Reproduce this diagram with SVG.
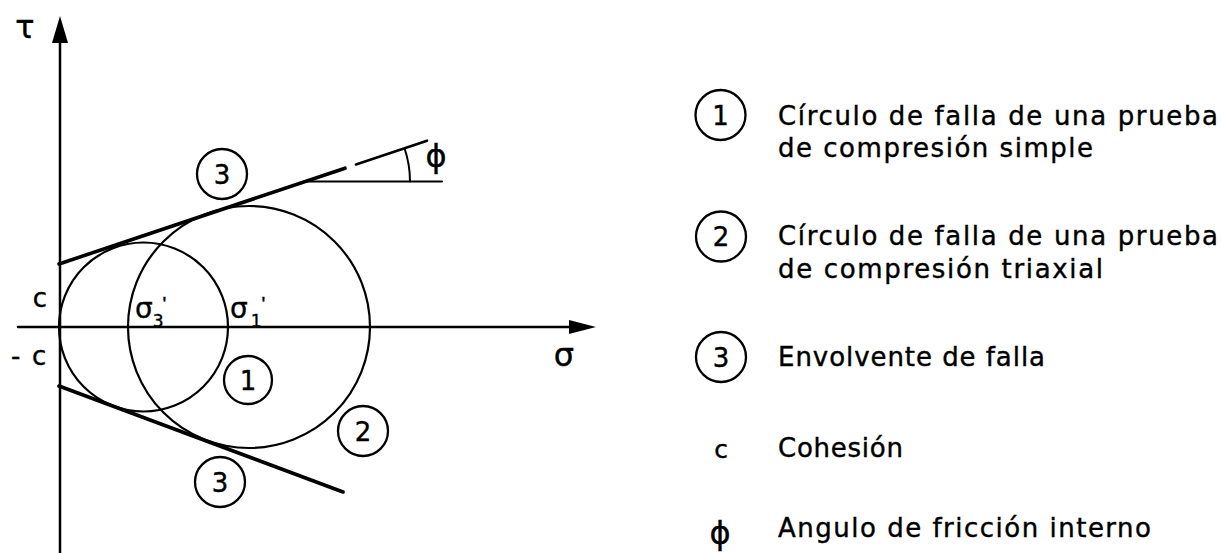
<svg xmlns="http://www.w3.org/2000/svg" width="1222" height="553" viewBox="0 0 1222 553">
<style>
.ln{fill:none;stroke:#000;stroke-linecap:round}
.ax{stroke-width:2.5}
.mc{stroke-width:2.2}
.env{stroke-width:3.6}
.tn{stroke-width:2}
.lc{fill:none;stroke:#000;stroke-width:2.3}
.t{font-family:"DejaVu Sans","Liberation Sans",sans-serif;fill:#000;stroke:#000;stroke-width:0.4}
.num{font-size:26px;text-anchor:middle}
.leg{font-size:26px}
.pr{font-family:"Liberation Sans",sans-serif}
</style>
<rect width="1222" height="553" fill="#fff"/>
<g id="connectors">
  <g id="tau-axis">
    <line class="ln ax" x1="60" y1="553" x2="60" y2="40"/>
    <polygon points="60,16 52,43 68,43" fill="#000"/>
  </g>
  <g id="sigma-axis">
    <line class="ln ax" x1="18" y1="327" x2="572" y2="327"/>
    <polygon points="596,327 569,320 569,334" fill="#000"/>
  </g>
  <g id="envelope-upper">
    <line class="ln env" x1="59" y1="264" x2="345" y2="168.2"/>
    <line class="ln tn" x1="356" y1="164.5" x2="427" y2="140.7" style="stroke-width:2.6"/>
    <line class="ln tn" x1="306" y1="181.5" x2="442" y2="181.5"/>
    <path class="ln tn" d="M404.6,148.5 A104,104 0 0 1 410,181.5"/>
  </g>
  <g id="envelope-lower">
    <line class="ln env" x1="59" y1="386" x2="343" y2="492"/>
  </g>
</g>
<g id="mohr-circle-1"><circle class="ln mc" cx="143.5" cy="327" r="84.5"/></g>
<g id="mohr-circle-2"><circle class="ln mc" cx="249" cy="327" r="121"/></g>
<g id="axis-labels">
  <text class="t" x="25" y="38" font-size="32" text-anchor="middle">τ</text>
  <text class="t" x="564" y="366" font-size="32" text-anchor="middle">σ</text>
  <text class="t" x="40" y="307" font-size="26" text-anchor="middle">c</text>
  <text class="t" x="11" y="365" font-size="26">-<tspan x="32">c</tspan></text>
  <text class="t" x="135" y="318" font-size="28">σ<tspan font-size="17" dy="9">3</tspan><tspan class="pr" font-size="20" dx="-1" dy="-16">'</tspan></text>
  <text class="t" x="230" y="318" font-size="28">σ<tspan font-size="17" dx="3" dy="9">1</tspan><tspan class="pr" font-size="20" dx="0" dy="-16">'</tspan></text>
  <text class="t" x="436" y="167" font-size="32" text-anchor="middle">ϕ</text>
</g>
<g id="label-3-upper"><circle class="lc" cx="222" cy="174" r="25"/><text class="t num" x="222" y="183.5">3</text></g>
<g id="label-1"><circle class="lc" cx="248" cy="380" r="24"/><text class="t num" x="248" y="389.5">1</text></g>
<g id="label-2"><circle class="lc" cx="363" cy="431" r="25"/><text class="t num" x="363" y="440.5">2</text></g>
<g id="label-3-lower"><circle class="lc" cx="220" cy="482" r="25"/><text class="t num" x="220" y="491.5">3</text></g>
<g id="legend-1">
  <circle class="lc" cx="720.5" cy="115" r="25"/><text class="t num" x="720.5" y="124.5">1</text>
  <text class="t leg" x="778" y="125" textLength="440" lengthAdjust="spacing">Círculo de falla de una prueba</text>
  <text class="t leg" x="778" y="157" textLength="315" lengthAdjust="spacing">de compresión simple</text>
</g>
<g id="legend-2">
  <circle class="lc" cx="721" cy="236.5" r="25"/><text class="t num" x="721" y="246">2</text>
  <text class="t leg" x="778" y="245" textLength="440" lengthAdjust="spacing">Círculo de falla de una prueba</text>
  <text class="t leg" x="778" y="278" textLength="325" lengthAdjust="spacing">de compresión triaxial</text>
</g>
<g id="legend-3">
  <circle class="lc" cx="721" cy="357" r="25"/><text class="t num" x="721" y="366.5">3</text>
  <text class="t leg" x="778" y="366" textLength="267" lengthAdjust="spacing">Envolvente de falla</text>
</g>
<g id="legend-c">
  <text class="t" x="721" y="458" font-size="25" text-anchor="middle">c</text>
  <text class="t leg" x="778" y="457" textLength="125" lengthAdjust="spacing">Cohesión</text>
</g>
<g id="legend-phi">
  <text class="t" x="720" y="544" font-size="32" text-anchor="middle">ϕ</text>
  <text class="t leg" x="778" y="537" textLength="373" lengthAdjust="spacing">Angulo de fricción interno</text>
</g>
</svg>
